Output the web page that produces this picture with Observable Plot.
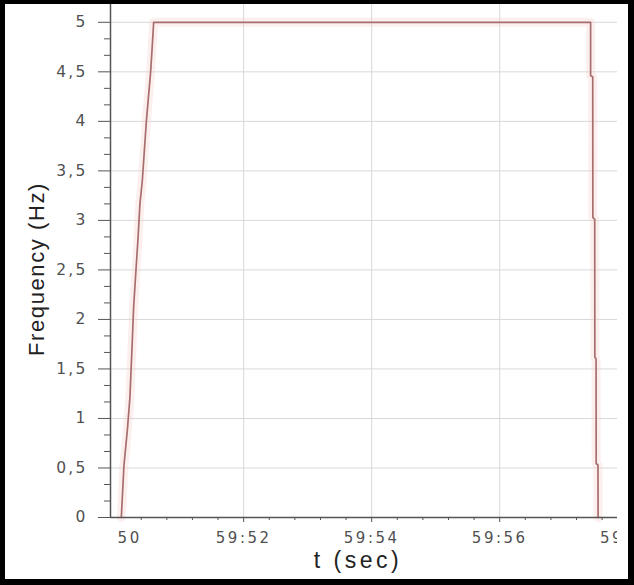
<!DOCTYPE html>
<html><head><meta charset="utf-8">
<script src="https://cdn.jsdelivr.net/npm/d3@7"></script>
<script src="https://cdn.jsdelivr.net/npm/@observablehq/plot@0.6"></script>
<style>
html,body{margin:0;padding:0;background:#fff;}
#frame{box-sizing:border-box;width:634px;height:585px;border-style:solid;border-color:#000;border-width:4px 6px 6px 5px;background:#fff;overflow:hidden;}
#chart svg{display:block;}
#chart g[aria-label="x-axis tick label"] text{font-family:"DejaVu Sans";font-size:15px;letter-spacing:2.5px;fill:#505050;}
#chart g[aria-label="y-axis tick label"] text{font-family:"DejaVu Sans";font-size:15.5px;letter-spacing:2.2px;fill:#505050;}
#chart text[aria-label="x-title"]{letter-spacing:3.5px;}
#chart text[aria-label="y-title"]{letter-spacing:1.6px;}
</style>
</head><body><div id="frame"><div id="chart"></div></div>
<script>
// time in seconds past 59:00, frequency in Hz
const riseT = [50.089, 50.130, 50.183, 50.223, 50.261, 50.281, 50.31, 50.35, 50.38, 50.417, 50.48, 50.547, 50.578, 50.594];
const riseF = [0, 0.525, 0.88, 1.21, 1.79, 2.12, 2.42, 2.82, 3.17, 3.40, 4.0, 4.5, 4.82, 5.0];
const fallT = [57.42, 57.42, 57.453, 57.455, 57.484, 57.486, 57.505, 57.507, 57.535, 57.537];
const fallF = [5.0, 4.46, 4.45, 3.03, 3.01, 1.62, 1.60, 0.545, 0.53, 0];

const xDomain = [49.92, 57.84];
const yDomain = [0, 5.18];
const yTicks = [0, 0.5, 1, 1.5, 2, 2.5, 3, 3.5, 4, 4.5, 5];
const xTicks = [52, 54, 56, 58];
const xTickLabels = ["59:52", "59:54", "59:56", "59:58"];
const firstTick = 50;
const firstTickLabel = "50";
const xLabel = "t (sec)";
const yLabel = "Frequency (Hz)";

const tAll = riseT.concat(fallT);
const fAll = riseF.concat(fallF);
const data = tAll.map((t, i) => ({t, f: fAll[i]}));

const yMinor = d3.range(1, 31).map(k => k / 6).filter((v, i) => (i + 1) % 3 !== 0);
const xMinor = d3.range(1, 20).map(k => Math.round((50 + 0.4 * k) * 10) / 10).filter(v => v % 2 !== 0);

const plot = Plot.plot({
  width: 612, height: 575,
  marginLeft: 105, marginRight: 0, marginTop: 0, marginBottom: 62,
  style: {background: "transparent", overflow: "hidden", color: "#555"},
  x: {domain: xDomain},
  y: {domain: yDomain},
  marks: [
    Plot.gridY(yTicks.filter(d => d > 0), {stroke: "#d8d8dc", strokeOpacity: 1}),
    Plot.gridX([52, 54, 56], {stroke: "#d8d8dc", strokeOpacity: 1}),
    Plot.line(data, {x: "t", y: "f", stroke: "#f4cdc6", strokeWidth: 9, strokeOpacity: 0.3}),
    Plot.line(data, {x: "t", y: "f", stroke: "#a86e6e", strokeWidth: 1.7}),
    Plot.ruleX([xDomain[0]], {stroke: "#555", strokeWidth: 1.5}),
    Plot.ruleY([0], {stroke: "#555", strokeWidth: 1.5}),
    Plot.axisY(yTicks, {tickSize: 12, tickPadding: 11, tickFormat: d => String(d).replace(".", ","), label: null, stroke: "#555"}),
    Plot.axisY(yMinor, {tickSize: 6, tickFormat: () => "", label: null, stroke: "#555"}),
    Plot.axisX(xTicks, {tickSize: 5, tickPadding: 10, tickFormat: d => xTickLabels[xTicks.indexOf(d)], label: null, stroke: "#555"}),
    Plot.axisX(xMinor, {tickSize: 3, tickFormat: () => "", label: null, stroke: "#555"}),
    Plot.axisX([firstTick], {tickSize: 0, tickPadding: 15, textAnchor: "start", dx: 2, tickFormat: () => firstTickLabel, label: null}),
    Plot.text([yLabel], {text: d => d, frameAnchor: "left", textAnchor: "middle", lineAnchor: "middle", rotate: -90, dx: -74, dy: 8, fontSize: 22, fontFamily: "Liberation Sans", fill: "#222", ariaLabel: () => "y-title"}),
    Plot.text([xLabel], {text: d => d, frameAnchor: "bottom", textAnchor: "middle", lineAnchor: "middle", dx: -6, dy: 43, fontSize: 23, fontFamily: "Liberation Sans", fill: "#222", ariaLabel: () => "x-title"})
  ]
});
document.getElementById("chart").appendChild(plot);
</script>
</body></html>
